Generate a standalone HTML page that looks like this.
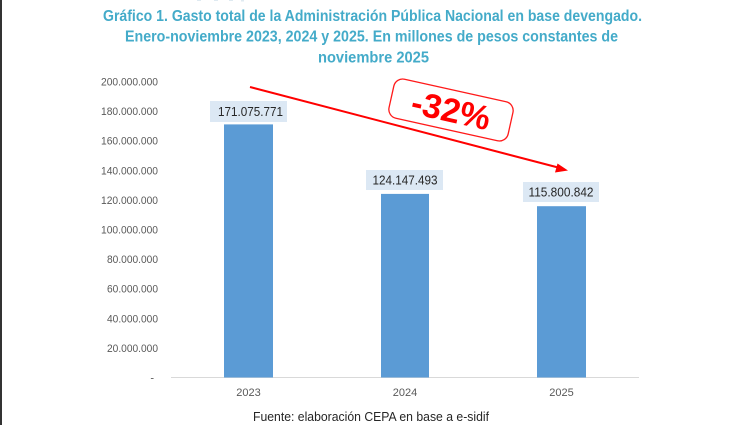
<!DOCTYPE html>
<html><head><meta charset="utf-8"><style>
html,body{margin:0;padding:0;background:#fff;}
svg{display:block;}
</style></head><body>
<svg width="742" height="425" viewBox="0 0 742 425" xmlns="http://www.w3.org/2000/svg">
<rect x="0" y="0" width="742" height="425" fill="#fff"/>
<rect x="0" y="0" width="2" height="425" fill="#333"/>
<g fill="#dfeaf1"><rect x="197" y="0" width="4" height="1"/><rect x="214" y="0" width="4" height="1"/><rect x="229" y="0" width="4" height="1"/><rect x="241" y="0" width="3" height="1.5"/></g>
<g font-family="'Liberation Sans Narrow','Liberation Sans',sans-serif" font-weight="bold" font-size="15.5" fill="#44abc9">
<text x="103" y="21" textLength="539" lengthAdjust="spacingAndGlyphs">Gráfico 1. Gasto total de la Administración Pública Nacional en base devengado.</text>
<text x="125" y="41.7" textLength="493" lengthAdjust="spacingAndGlyphs">Enero-noviembre 2023, 2024 y 2025. En millones de pesos constantes de</text>
<text x="318" y="62.5" textLength="111" lengthAdjust="spacingAndGlyphs">noviembre 2025</text>
</g>
<g font-family="'Liberation Sans',sans-serif" font-size="11" fill="#595959" text-anchor="end">
<text x="158" y="85.5" textLength="57" lengthAdjust="spacingAndGlyphs">200.000.000</text>
<text x="158" y="115.1" textLength="57" lengthAdjust="spacingAndGlyphs">180.000.000</text>
<text x="158" y="144.7" textLength="57" lengthAdjust="spacingAndGlyphs">160.000.000</text>
<text x="158" y="174.3" textLength="57" lengthAdjust="spacingAndGlyphs">140.000.000</text>
<text x="158" y="203.9" textLength="57" lengthAdjust="spacingAndGlyphs">120.000.000</text>
<text x="158" y="233.5" textLength="57" lengthAdjust="spacingAndGlyphs">100.000.000</text>
<text x="158" y="263.1" textLength="51" lengthAdjust="spacingAndGlyphs">80.000.000</text>
<text x="158" y="292.7" textLength="51" lengthAdjust="spacingAndGlyphs">60.000.000</text>
<text x="158" y="322.3" textLength="51" lengthAdjust="spacingAndGlyphs">40.000.000</text>
<text x="158" y="351.9" textLength="51" lengthAdjust="spacingAndGlyphs">20.000.000</text>
<text x="154" y="381.5">-</text>
</g>
<line x1="171" y1="377.5" x2="639" y2="377.5" stroke="#d9d9d9" stroke-width="1"/>
<g fill="#5b9bd5">
<rect x="224" y="124.4" width="49" height="253.1"/>
<rect x="381" y="193.9" width="48" height="183.6"/>
<rect x="537" y="206.2" width="49" height="171.3"/>
</g>
<g fill="#dce8f4">
<rect x="210" y="101" width="77" height="21"/>
<rect x="366" y="170" width="77" height="20"/>
<rect x="523" y="182" width="76" height="20"/>
</g>
<g font-family="'Liberation Sans',sans-serif" font-size="12.5" fill="#262626" text-anchor="middle">
<text x="250.5" y="116" textLength="65" lengthAdjust="spacingAndGlyphs">171.075.771</text>
<text x="405" y="184.5" textLength="65" lengthAdjust="spacingAndGlyphs">124.147.493</text>
<text x="561" y="196.5" textLength="65" lengthAdjust="spacingAndGlyphs">115.800.842</text>
</g>
<g font-family="'Liberation Sans',sans-serif" font-size="11" fill="#595959" text-anchor="middle">
<text x="248.5" y="396">2023</text>
<text x="405" y="396">2024</text>
<text x="561.5" y="396">2025</text>
</g>
<text x="371" y="421" font-family="'Liberation Sans',sans-serif" font-size="12.5" fill="#262626" text-anchor="middle" textLength="236" lengthAdjust="spacingAndGlyphs">Fuente: elaboración CEPA en base a e-sidif</text>
<line x1="250" y1="87" x2="560" y2="168" stroke="#ff0000" stroke-width="2"/>
<polygon points="568,170.5 557.5,163.5 555,172.5" fill="#ff0000"/>
<g transform="translate(451,110) rotate(12.5)">
<rect x="-61" y="-20" width="122" height="40" rx="9" ry="9" fill="#fff" stroke="#ff1a1a" stroke-width="1.3"/>
<text x="0" y="12" font-family="'Liberation Sans',sans-serif" font-weight="bold" font-size="34" fill="#ff0000" text-anchor="middle" textLength="80" lengthAdjust="spacingAndGlyphs">-32%</text>
</g>
</svg>
</body></html>
